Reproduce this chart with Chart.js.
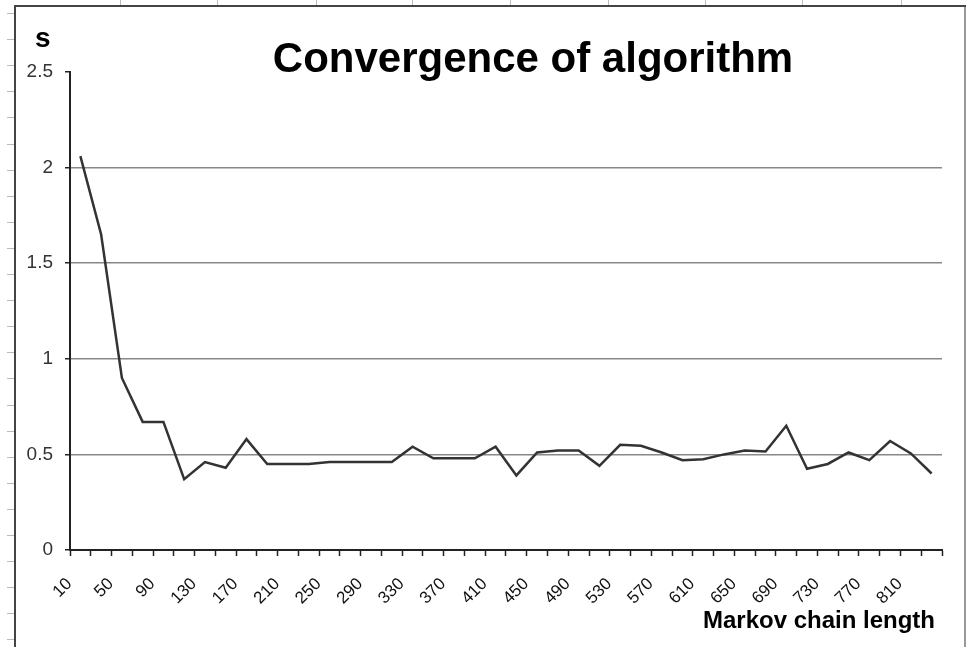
<!DOCTYPE html>
<html>
<head>
<meta charset="utf-8">
<script src="https://cdn.jsdelivr.net/npm/chart.js@4/dist/chart.umd.min.js"></script>
<style>
  html, body { margin: 0; padding: 0; background: #fff; }
  #wrap { width: 967px; height: 647px; }
</style>
</head>
<body>
<div id="wrap"><canvas id="convChart" width="967" height="647"></canvas></div>
<script>
// Markov chain length (categories) and convergence time s
const chainLengths = [10, 30, 50, 70, 90, 110, 130, 150, 170, 190,
  210, 230, 250, 270, 290, 310, 330, 350, 370, 390,
  410, 430, 450, 470, 490, 510, 530, 550, 570, 590,
  610, 630, 650, 670, 690, 710, 730, 750, 770, 790,
  810, 830];
const convergenceTime = [2.06, 1.65, 0.90, 0.67, 0.67, 0.37, 0.46, 0.43, 0.58, 0.45,
  0.45, 0.45, 0.46, 0.46, 0.46, 0.46, 0.54, 0.48, 0.48, 0.48,
  0.54, 0.39, 0.51, 0.52, 0.52, 0.44, 0.55, 0.545, 0.51, 0.47,
  0.475, 0.50, 0.52, 0.515, 0.65, 0.425, 0.45, 0.51, 0.47, 0.57,
  0.505, 0.40];
const yTicks = [0, 0.5, 1, 1.5, 2, 2.5];

const FONT = "'Liberation Sans', Arial, sans-serif";

// page frame, ruler marks and free-standing texts
const decor = {
    id: 'decor',
    beforeDraw(chart) {
        const ctx = chart.ctx;
        ctx.save();
        ctx.fillStyle = '#fff';
        ctx.fillRect(0, 0, chart.width, chart.height);
        ctx.strokeStyle = '#bbb';
        ctx.lineWidth = 1;
        for (let y = 13; y < chart.height; y += 26.1) {
            ctx.beginPath();
            ctx.moveTo(7, Math.round(y) + 0.5);
            ctx.lineTo(14, Math.round(y) + 0.5);
            ctx.stroke();
        }
        [120, 217, 316, 412, 510, 608, 705, 802, 901].forEach(x => {
            ctx.beginPath();
            ctx.moveTo(x + 0.5, 0);
            ctx.lineTo(x + 0.5, 5);
            ctx.stroke();
        });
        ctx.lineWidth = 2;
        ctx.strokeStyle = '#444';
        ctx.beginPath();
        ctx.moveTo(15, chart.height);
        ctx.lineTo(15, 6);
        ctx.lineTo(966, 6);
        ctx.stroke();
        ctx.strokeStyle = '#999';
        ctx.beginPath();
        ctx.moveTo(965, 7);
        ctx.lineTo(965, chart.height);
        ctx.stroke();
        ctx.restore();
    },
    afterDraw(chart) {
        const ctx = chart.ctx;
        ctx.save();
        ctx.fillStyle = '#000';
        ctx.textBaseline = 'alphabetic';
        ctx.font = 'bold 42px ' + FONT;
        ctx.textAlign = 'center';
        ctx.fillText('Convergence of algorithm', 533, 72);
        ctx.font = 'bold 28px ' + FONT;
        ctx.textAlign = 'left';
        ctx.fillText('s', 35, 47);
        ctx.font = 'bold 24px ' + FONT;
        ctx.textAlign = 'right';
        ctx.fillText('Markov chain length', 935, 628);
        ctx.restore();
    }
};

new Chart(document.getElementById('convChart'), {
    type: 'line',
    data: {
        labels: chainLengths,
        datasets: [{
            data: convergenceTime,
            borderColor: '#333',
            borderWidth: 2.5,
            pointRadius: 0,
            tension: 0,
            fill: false
        }]
    },
    options: {
        responsive: false,
        animation: false,
        devicePixelRatio: 1,
        layout: { padding: { left: 0, right: 25, top: 72, bottom: 0 } },
        plugins: {
            legend: { display: false },
            tooltip: { enabled: false }
        },
        scales: {
            x: {
                type: 'category',
                offset: true,
                afterFit: (scale) => { scale.height = 97; },
                border: { color: '#222', width: 2 },
                grid: {
                    offset: true,
                    drawOnChartArea: false,
                    tickLength: 6,
                    tickColor: '#222',
                    tickWidth: 1.5
                },
                ticks: {
                    autoSkip: false,
                    minRotation: 45,
                    maxRotation: 45,
                    labelOffset: -11,
                    padding: 18,
                    color: '#111',
                    font: { family: FONT, size: 17 },
                    callback: (value, index) => index % 2 === 0 ? chainLengths[index] : ''
                }
            },
            y: {
                min: 0,
                max: 2.5,
                afterFit: (scale) => { scale.width = 70; },
                afterBuildTicks: (scale) => { scale.ticks = yTicks.map(v => ({ value: v })); },
                border: { color: '#222', width: 2 },
                grid: {
                    color: (c) => (c.tick && (c.tick.value === 2.5 || c.tick.value === 0)) ? 'rgba(0,0,0,0)' : '#888',
                    lineWidth: 1.5,
                    tickLength: 5,
                    tickColor: '#222'
                },
                ticks: {
                    padding: 12,
                    color: '#333',
                    font: { family: FONT, size: 19 },
                    callback: (v) => String(v)
                }
            }
        }
    },
    plugins: [decor]
});
</script>
</body>
</html>
